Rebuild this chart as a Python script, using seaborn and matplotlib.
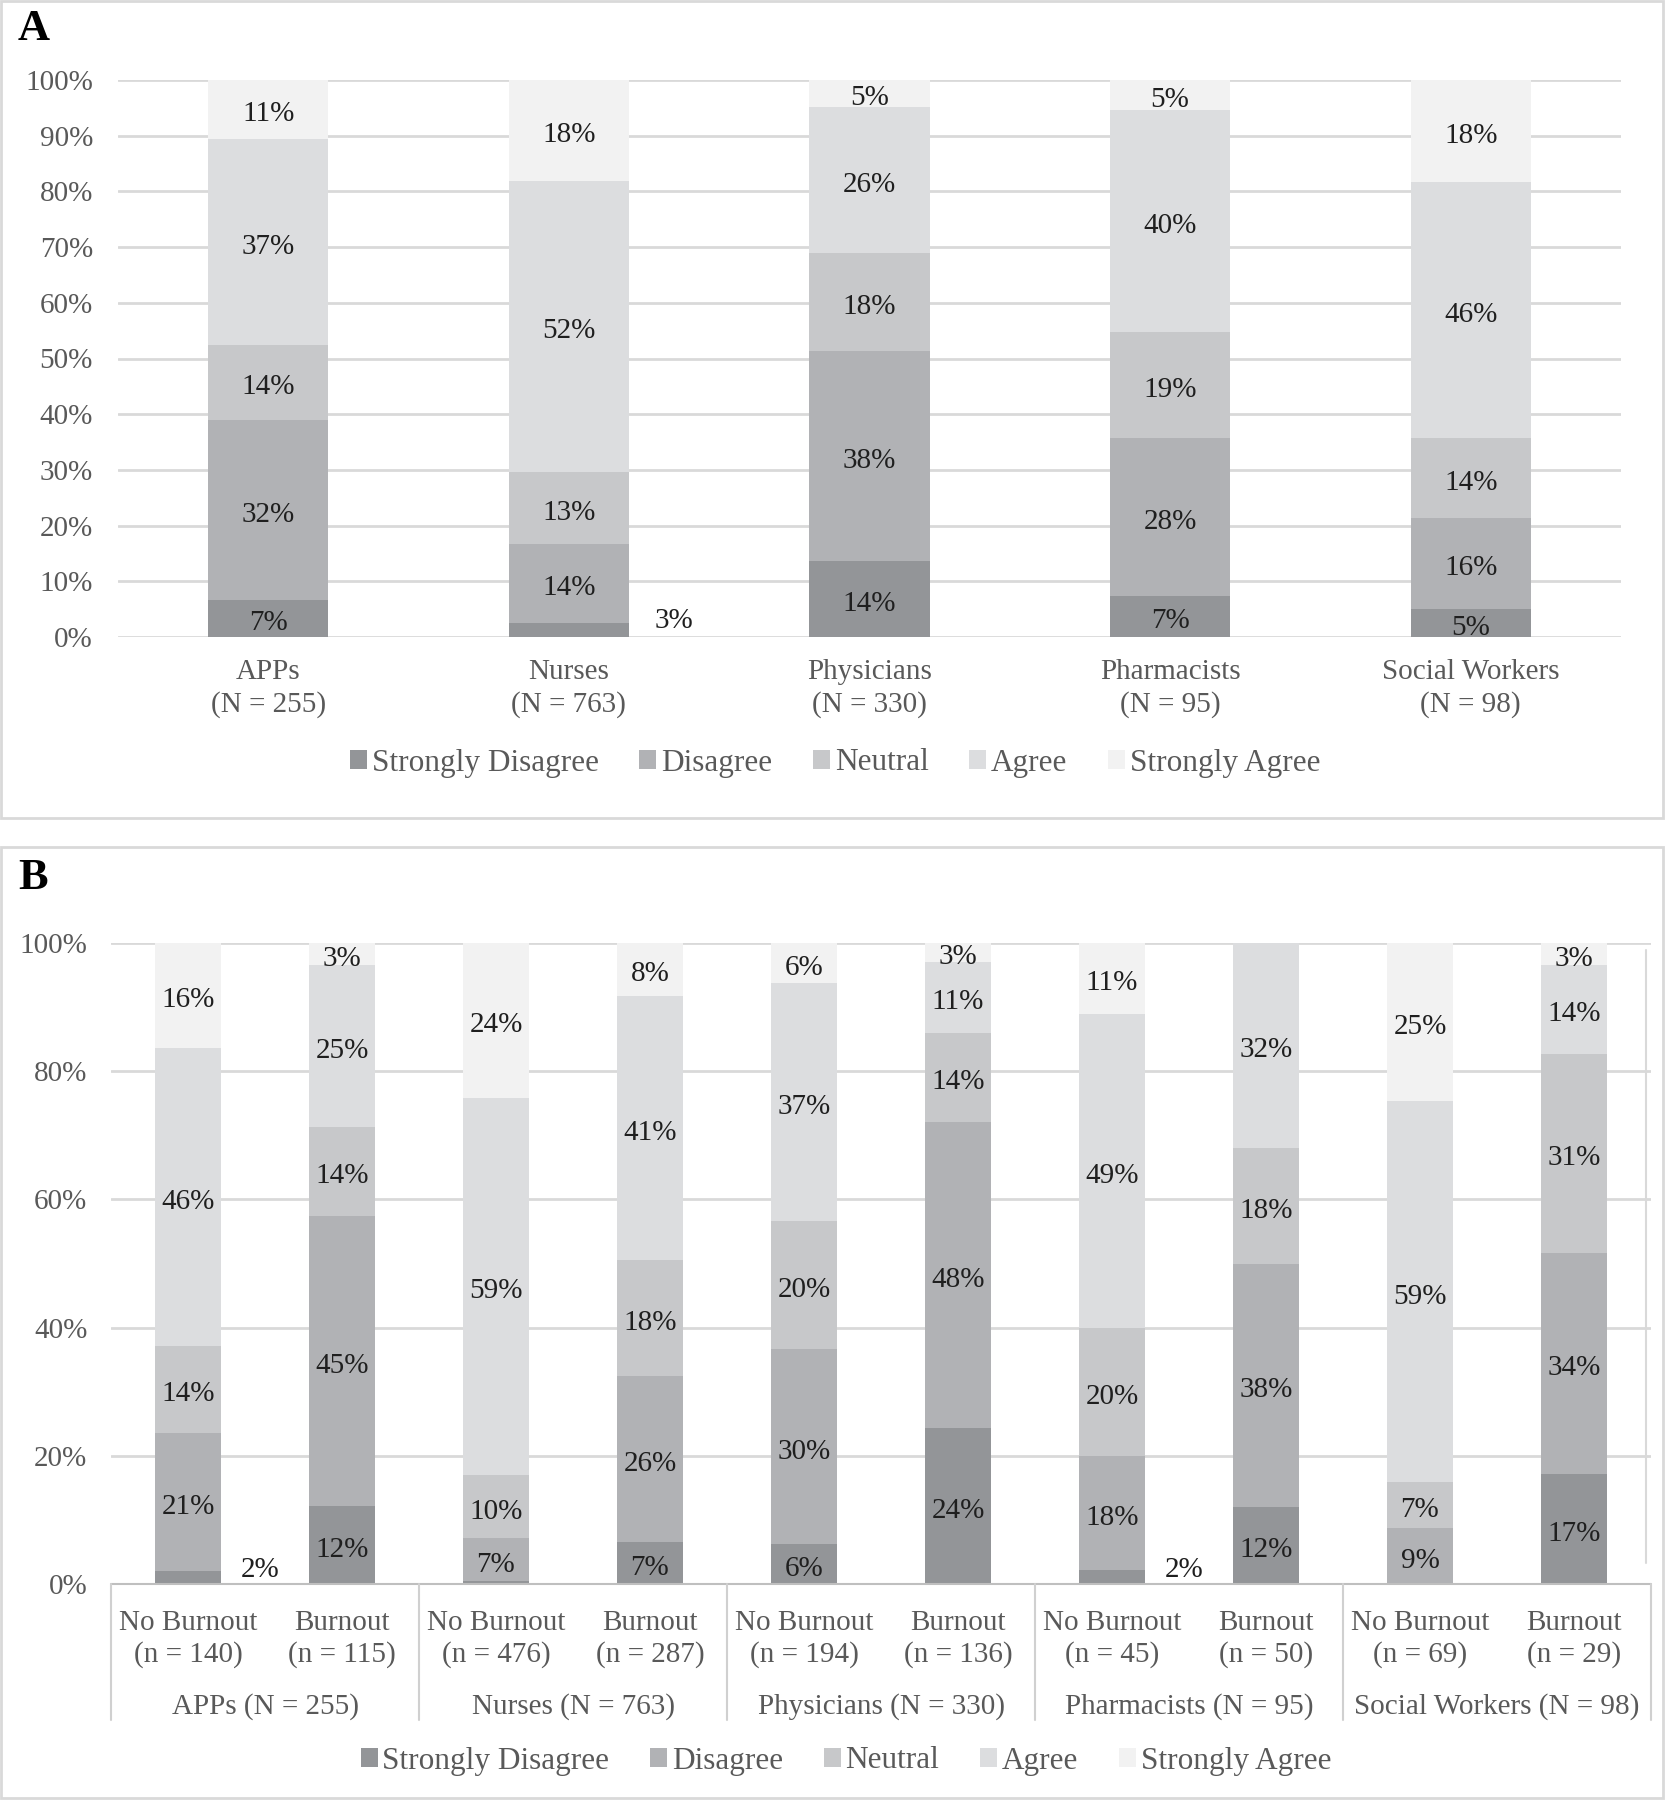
import numpy as np
import pandas as pd
import matplotlib
matplotlib.use("Agg")
import matplotlib.pyplot as plt
import matplotlib.transforms as mtransforms
from matplotlib.patches import Patch, Rectangle
import seaborn as sns

# response levels and colours (darkest = strongly disagree)
levels = ["Strongly Disagree", "Disagree", "Neutral", "Agree", "Strongly Agree"]
level_colors = ["#939598", "#b1b2b5", "#c7c8ca", "#dcdddf", "#f2f2f2"]

# panel A: by profession
a_categories = ["APPs\n(N = 255)", "Nurses\n(N = 763)", "Physicians\n(N = 330)",
                "Pharmacists\n(N = 95)", "Social Workers\n(N = 98)"]
a_sd = [6.7, 2.6, 13.6, 7.4, 5.1]
a_d = [32.2, 14.1, 37.7, 28.4, 16.3]
a_n = [13.6, 13.0, 17.6, 18.9, 14.3]
a_a = [36.9, 52.2, 26.3, 40.0, 45.9]
a_sa = [10.6, 18.1, 4.8, 5.3, 18.4]

# panel B: by profession and burnout status
b_groups = ["APPs (N = 255)", "Nurses (N = 763)", "Physicians (N = 330)",
            "Pharmacists (N = 95)", "Social Workers (N = 98)"]
b_subs = ["No Burnout\n(n = 140)", "Burnout\n(n = 115)",
          "No Burnout\n(n = 476)", "Burnout\n(n = 287)",
          "No Burnout\n(n = 194)", "Burnout\n(n = 136)",
          "No Burnout\n(n = 45)", "Burnout\n(n = 50)",
          "No Burnout\n(n = 69)", "Burnout\n(n = 29)"]
b_sd = [2.1, 12.2, 0.4, 6.6, 6.2, 24.3, 2.2, 12.0, 0.0, 17.2]
b_d = [21.4, 45.2, 6.7, 25.8, 30.4, 47.8, 17.8, 38.0, 8.7, 34.4]
b_n = [13.7, 13.9, 9.9, 18.1, 20.1, 13.9, 20.0, 18.0, 7.2, 31.1]
b_a = [46.4, 25.3, 58.8, 41.2, 37.1, 11.0, 48.9, 32.0, 59.4, 13.9]
b_sa = [16.4, 3.4, 24.2, 8.3, 6.2, 3.0, 11.1, 0.0, 24.7, 3.4]

GRID = "#d9d9d9"
TICK_COL = "#595959"
LABEL_COL = "#1f1f1f"
FS = 21

sns.set_theme(style="white")
plt.rcParams["font.family"] = ["Liberation Serif", "DejaVu Serif"]


def long_table(cats, series):
    rows = []
    for i, cat in enumerate(cats):
        bottom = 0.0
        for lvl, vals in zip(levels, series):
            v = vals[i]
            rows.append({"cat": cat, "level": lvl, "value": v,
                         "bottom": bottom, "top": bottom + v, "pos": i})
            bottom += v
    return pd.DataFrame(rows)


def stacked(ax, df, cats, width, out_dx, out_y):
    # overlay cumulative bars, tallest first, so each segment shows its own colour
    for lvl, col in reversed(list(zip(levels, level_colors))):
        sub = df[df["level"] == lvl]
        sns.barplot(data=sub, x="cat", y="top", order=cats, color=col,
                    saturation=1, width=width, errorbar=None, linewidth=0, ax=ax)
    # nudge the centred labels down a little, like the original
    shifted = ax.transData + mtransforms.ScaledTranslation(0, -3.5 / 72, fig.dpi_scale_trans)
    for _, r in df.iterrows():
        v = r["value"]
        if v < 1:
            continue
        if r["level"] == "Strongly Disagree" and v < 3:
            ax.text(r["pos"] + out_dx, out_y, f"{v:.0f}%", ha="center", va="bottom",
                    fontsize=FS, color=LABEL_COL)
        else:
            ax.text(r["pos"], r["bottom"] + v / 2, f"{v:.0f}%", ha="center", va="center",
                    fontsize=FS, color=LABEL_COL, transform=shifted)


def style_axes(ax, step, pad):
    ax.set_ylim(0, 100)
    ax.set_yticks(np.arange(0, 101, step))
    ax.set_yticklabels([f"{t}%" for t in range(0, 101, step)], fontsize=FS, color=TICK_COL)
    ax.yaxis.grid(True, color=GRID, linewidth=2)
    ax.set_axisbelow(True)
    for s in ax.spines.values():
        s.set_visible(False)
    ax.tick_params(axis="y", length=0, pad=pad)
    ax.set_xlabel("")
    ax.set_ylabel("")


W, H = 1666, 1800
fig = plt.figure(figsize=(W / 100, H / 100), dpi=100)


def px_axes(x0, y0, x1, y1):
    return fig.add_axes([x0 / W, 1 - y1 / H, (x1 - x0) / W, (y1 - y0) / H])


# panel frames
for y0, y1 in [(1, 818), (847, 1798)]:
    fig.patches.append(Rectangle((1 / W, 1 - y1 / H), 1662 / W, (y1 - y0) / H,
                                 transform=fig.transFigure, fill=False,
                                 edgecolor="#d9d9d9", linewidth=2))
fig.text(18 / W, 1 - 29 / H, "A", fontsize=32, fontweight="bold", va="center", color="black")
fig.text(18 / W, 1 - 878 / H, "B", fontsize=32, fontweight="bold", va="center", color="black")

# ---- panel A ----
axA = px_axes(118, 80, 1621, 637)
dfA = long_table(a_categories, [a_sd, a_d, a_n, a_a, a_sa])
stacked(axA, dfA, a_categories, 0.40, 0.35, 0.6)
style_axes(axA, 10, 18)
axA.set_xlim(-0.5, len(a_categories) - 0.5)
axA.set_xticks(range(len(a_categories)))
axA.set_xticklabels(a_categories, fontsize=FS, color=TICK_COL, linespacing=1.3)
axA.tick_params(axis="x", length=0, pad=16)

handles = [Patch(facecolor=c, edgecolor="none", label=l) for l, c in zip(levels, level_colors)]
legend_kw = dict(loc="center", ncol=5, frameon=False, fontsize=22.5, labelcolor=TICK_COL,
                 handlelength=0.55, handleheight=0.55, handletextpad=0.15, columnspacing=1.3)
fig.legend(handles=handles, bbox_to_anchor=(835 / W, 1 - 763 / H), **legend_kw)

# ---- panel B ----
axB = px_axes(111, 943, 1651, 1584)
b_keys = [f"{g}|{s}" for g in b_groups for s in ("NB", "B")]
dfB = long_table(b_keys, [b_sd, b_d, b_n, b_a, b_sa])
stacked(axB, dfB, b_keys, 0.43, 0.47, 0.2)
style_axes(axB, 20, 17)
axB.set_xlim(-0.5, len(b_keys) - 0.5)
axB.set_xticks([])

tr = axB.get_xaxis_transform()
axB.plot([-0.5, len(b_keys) - 0.5], [0, 0], color="#bfbfbf", lw=1.5, transform=tr, clip_on=False)
for b in np.arange(-0.5, len(b_keys), 2):
    axB.plot([b, b], [0, -0.212], color="#d0d0d0", lw=1.5, transform=tr, clip_on=False)
axB.plot([9.47, 9.47], [0.033, 0.989], color="#d9d9d9", lw=1.5, transform=tr, clip_on=False)
for i, s in enumerate(b_subs):
    top, bot = s.split("\n")
    axB.text(i, -0.0605, top, ha="center", va="center", fontsize=FS, color=TICK_COL, transform=tr)
    axB.text(i, -0.1105, bot, ha="center", va="center", fontsize=FS, color=TICK_COL, transform=tr)
for j, g in enumerate(b_groups):
    axB.text(2 * j + 0.5, -0.1915, g, ha="center", va="center", fontsize=FS,
             color=TICK_COL, transform=tr)

fig.legend(handles=handles, bbox_to_anchor=(846 / W, 1 - 1761 / H), **legend_kw)

fig.savefig("out.png", dpi=100, facecolor="white")
